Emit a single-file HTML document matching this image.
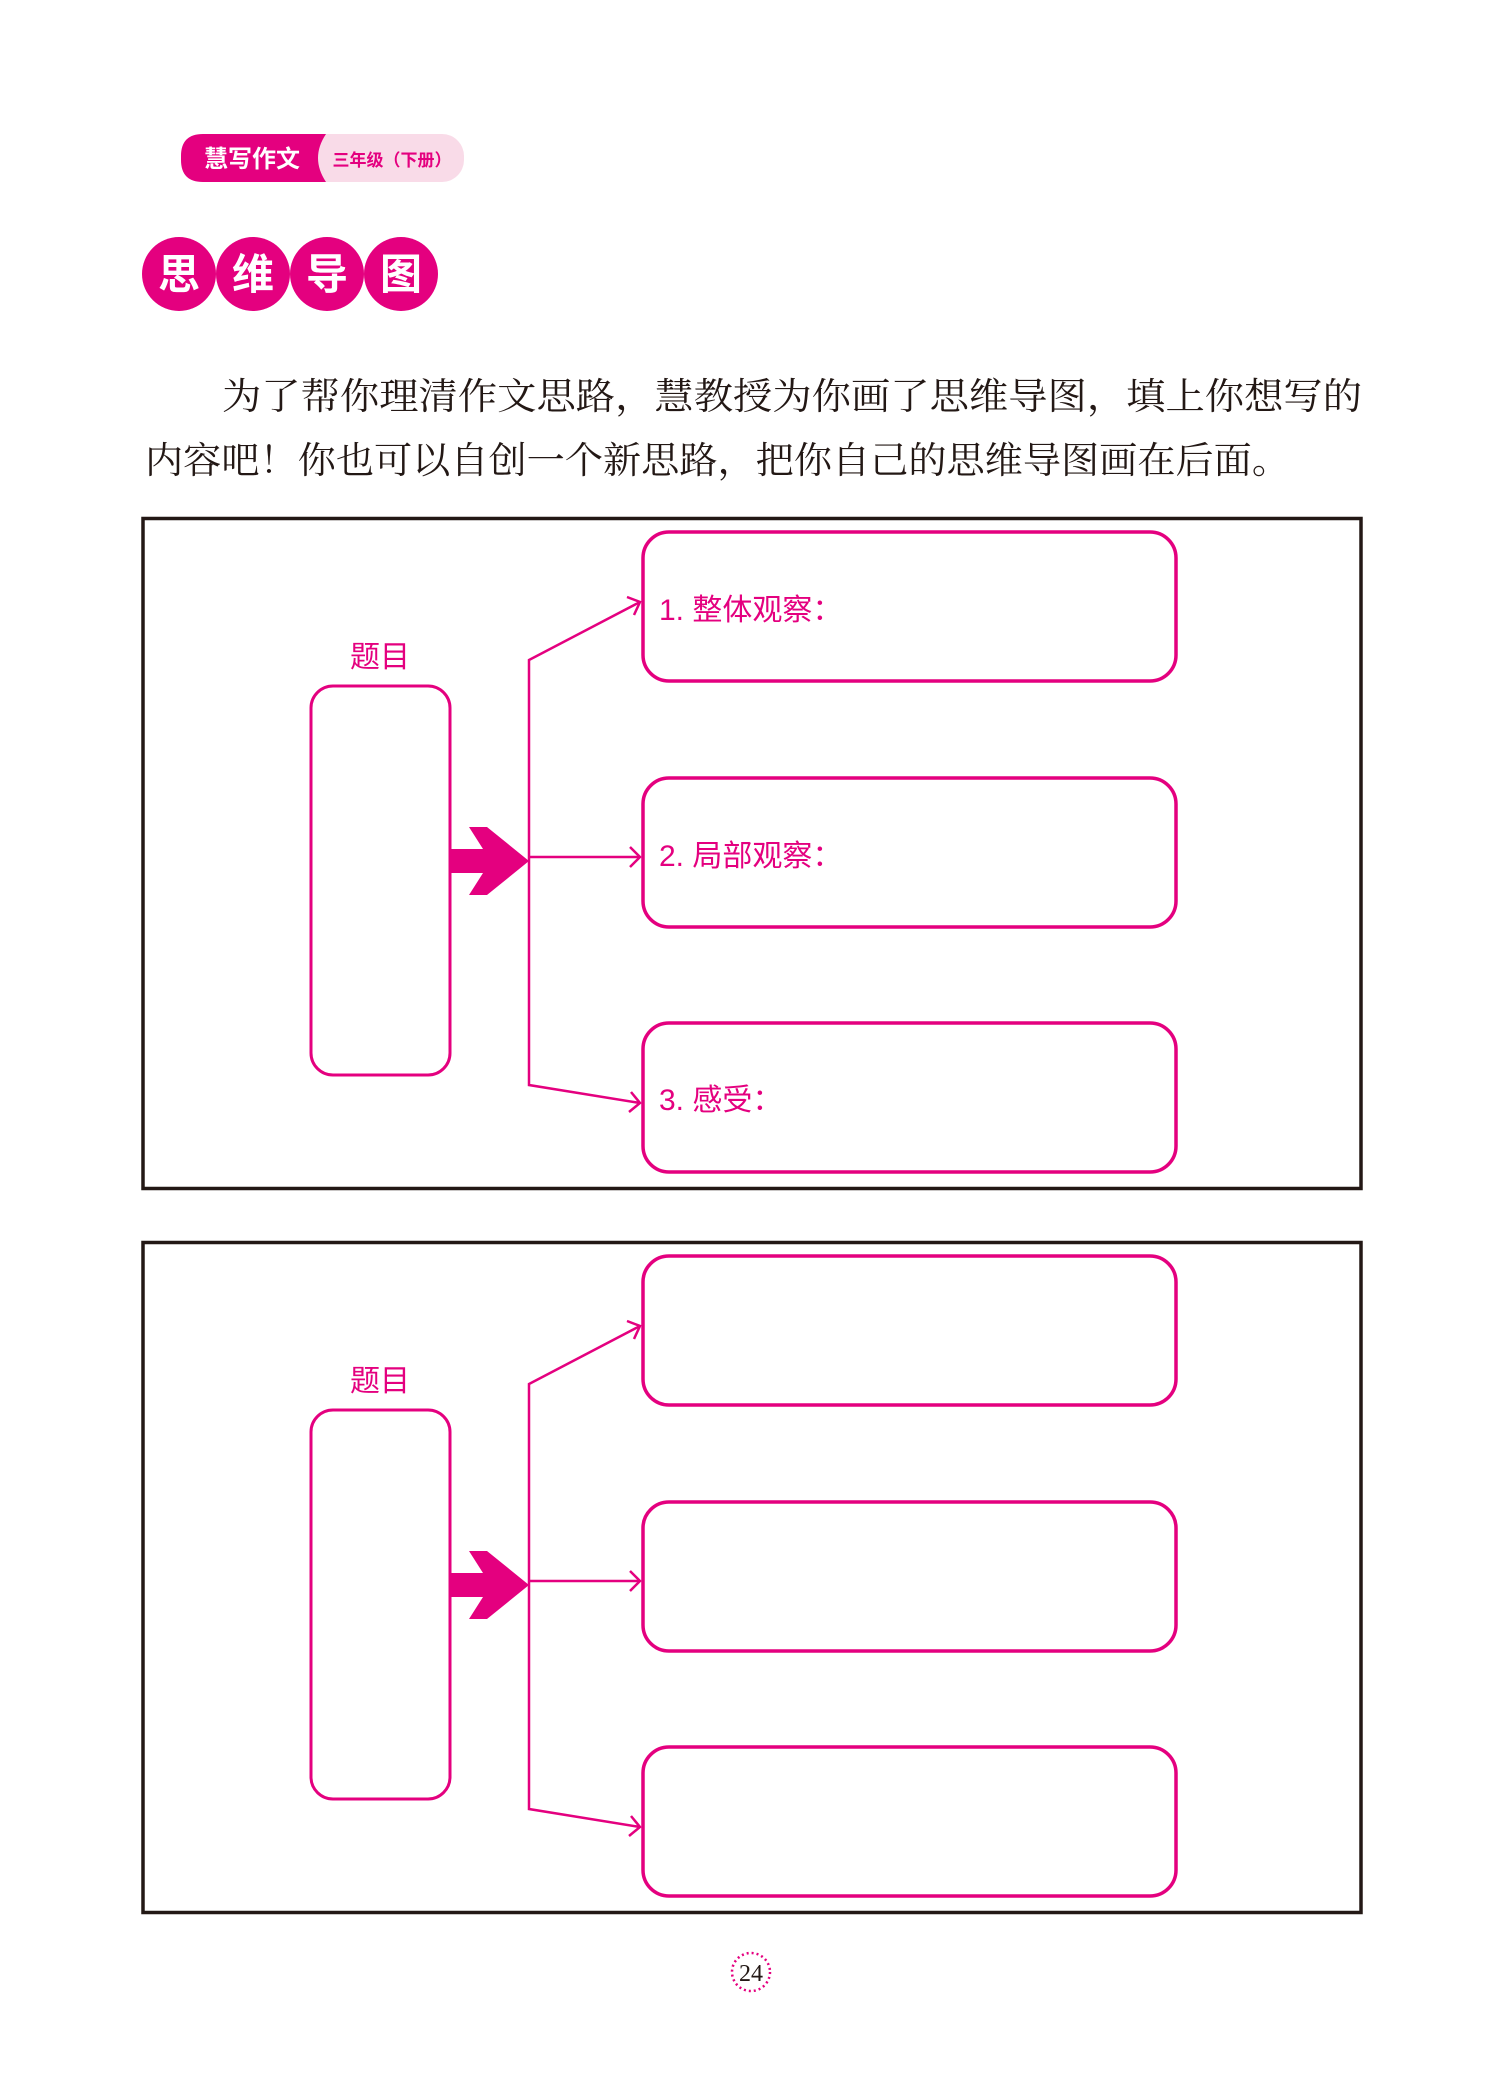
<!DOCTYPE html>
<html><head><meta charset="utf-8"><style>
html,body{margin:0;padding:0;background:#fff;}
body{width:1504px;height:2095px;overflow:hidden;}
svg{display:block;}
</style></head><body>
<svg width="1504" height="2095" viewBox="0 0 1504 2095" xmlns="http://www.w3.org/2000/svg">
<defs>
<g id="diag">
  <rect x="143" y="1.5" width="1218" height="670" fill="none" stroke="#231815" stroke-width="3.5"/>
  <text x="380" y="150" font-family="Liberation Sans, Noto Sans CJK SC, sans-serif" font-size="30" fill="#e4007f" text-anchor="middle">题目</text>
  <rect x="311" y="169" width="139" height="389" rx="22" fill="none" stroke="#e4007f" stroke-width="3"/>
  <polygon points="450,332 483,332 469,310 487,310 529,344 487,378 469,378 483,356 450,356" fill="#e4007f"/>
  <polyline points="640,85 529,143 529,568 640,586" fill="none" stroke="#e4007f" stroke-width="2.5"/>
  <line x1="529" y1="340" x2="640" y2="340" stroke="#e4007f" stroke-width="2.5"/>
  <polyline points="627,80 640,85 634,98" fill="none" stroke="#e4007f" stroke-width="2.5"/>
  <polyline points="630,330 640,340 630,350" fill="none" stroke="#e4007f" stroke-width="2.5"/>
  <polyline points="631,575 640,586 629,595" fill="none" stroke="#e4007f" stroke-width="2.5"/>
  <rect x="643" y="15" width="533" height="149" rx="26" fill="none" stroke="#e4007f" stroke-width="3.5"/>
  <rect x="643" y="261" width="533" height="149" rx="26" fill="none" stroke="#e4007f" stroke-width="3.5"/>
  <rect x="643" y="506" width="533" height="149" rx="26" fill="none" stroke="#e4007f" stroke-width="3.5"/>
</g>
</defs>
<rect x="181" y="134" width="283" height="48" rx="22" fill="#f9dbe8"/>
<path d="M203,134 H326 Q310,158 326,182 H203 Q181,182 181,160 V156 Q181,134 203,134 Z" fill="#e4007f"/>
<text x="252" y="167" font-family="Liberation Sans, Noto Sans CJK SC, sans-serif" font-size="24" font-weight="bold" fill="#fff" text-anchor="middle">慧写作文</text>
<text x="392" y="166" font-family="Liberation Sans, Noto Sans CJK SC, sans-serif" font-size="17" font-weight="bold" fill="#e4007f" text-anchor="middle">三年级（下册）</text>
<g font-family="Liberation Sans, Noto Sans CJK SC, sans-serif" font-size="42" font-weight="bold" fill="#fff" text-anchor="middle">
<circle cx="179" cy="274" r="37" fill="#e4007f"/><text x="179" y="289">思</text>
<circle cx="253" cy="274" r="37" fill="#e4007f"/><text x="253" y="289">维</text>
<circle cx="327" cy="274" r="37" fill="#e4007f"/><text x="327" y="289">导</text>
<circle cx="401" cy="274" r="37" fill="#e4007f"/><text x="401" y="289">图</text>
</g>
<g font-family="Liberation Serif, Noto Serif CJK SC, serif" font-size="37" fill="#231815">
<text x="222" y="409" textLength="1140" lengthAdjust="spacingAndGlyphs">为了帮你理清作文思路，慧教授为你画了思维导图，填上你想写的</text>
<text x="145" y="473" textLength="1145" lengthAdjust="spacingAndGlyphs">内容吧！你也可以自创一个新思路，把你自己的思维导图画在后面。</text>
</g>
<g transform="translate(0,517)">
  <use href="#diag"/>
  <g font-family="Liberation Sans, Noto Sans CJK SC, sans-serif" font-size="30" fill="#e4007f">
    <text x="659" y="103">1. 整体观察：</text>
    <text x="659" y="349">2. 局部观察：</text>
    <text x="659" y="593">3. 感受：</text>
  </g>
</g>
<g transform="translate(0,1241)">
  <use href="#diag"/>
</g>
<circle cx="751" cy="1972" r="19" fill="none" stroke="#e4007f" stroke-width="2.5" stroke-dasharray="2 3"/>
<text x="751" y="1981" font-family="Liberation Serif, serif" font-size="24" fill="#231815" text-anchor="middle">24</text>
</svg>
</body></html>
